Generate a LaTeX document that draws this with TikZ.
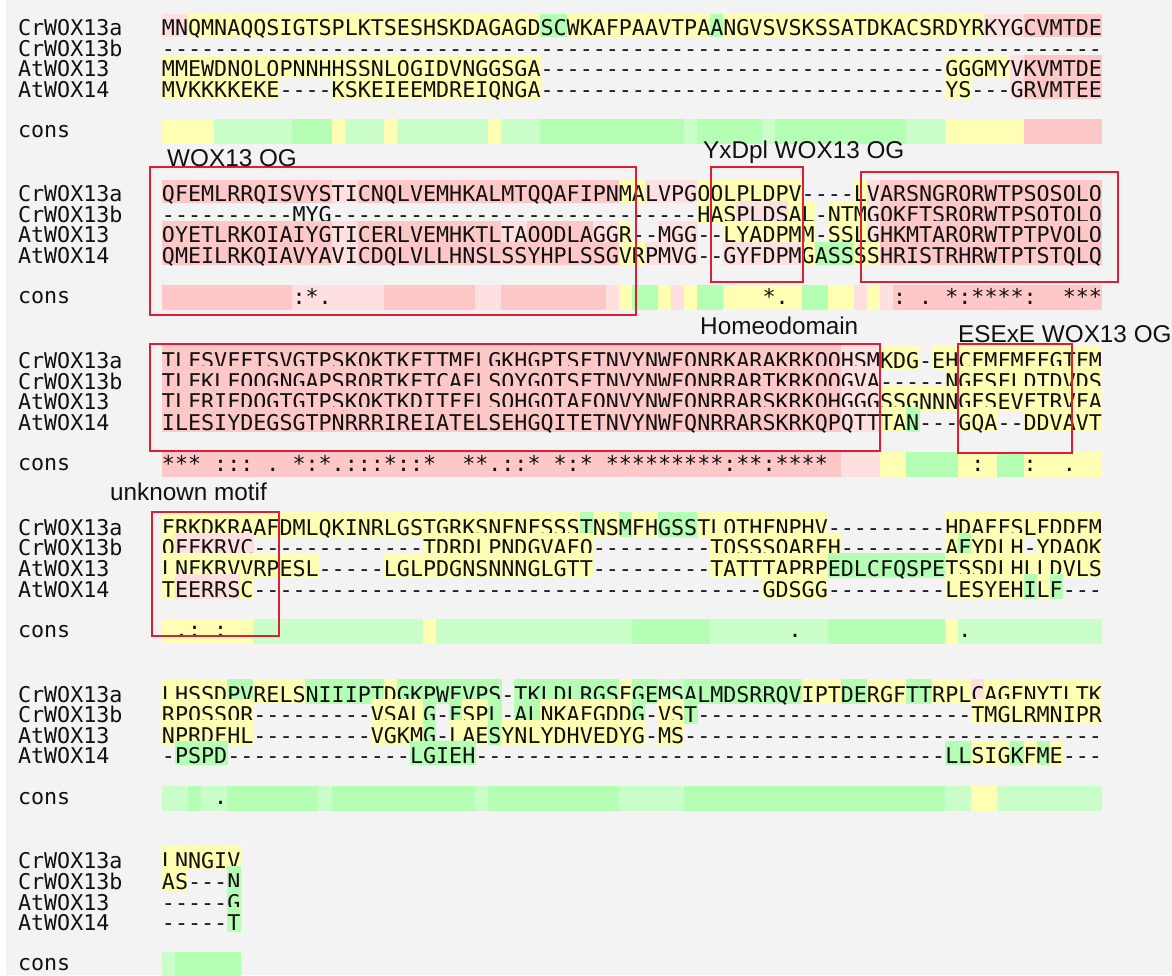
\documentclass[tikz,border=0pt]{standalone}
\usepackage{fontspec}
\newfontfamily\monof{DejaVu Sans Mono}
\newfontfamily\annf{Liberation Sans}
\definecolor{cbg}{RGB}{243,243,243}
\definecolor{cp}{RGB}{255,200,200}
\definecolor{cq}{RGB}{255,224,224}
\definecolor{cy}{RGB}{255,255,180}
\definecolor{cg}{RGB}{180,255,180}
\definecolor{ch}{RGB}{202,255,202}
\definecolor{cred}{RGB}{222,30,50}
\definecolor{ctxt}{RGB}{17,17,17}
% sequence typesetting: one fixed-width cell per character, "_" = blank cell
\def\seqloop#1{\ifx\relax#1\else\hbox to 13.056pt{\hss\if_#1\else#1\fi\hss}\expandafter\seqloop\fi}
\newcommand\seq[1]{\seqloop#1\relax}
% background cells: one code letter per column, "." = none
\newcount\bgc
\def\bgtop{0}\def\bgh{0}
\def\bgloop#1{\ifx\relax#1\else\bgcell#1\global\advance\bgc by 1\relax\expandafter\bgloop\fi}
\def\bgcell#1{\if.#1\else\fill[c#1] ({161.8+\the\bgc*13.056},\bgtop) rectangle ++(13.5,\bgh);\fi}
\newcommand\bgrow[3]{\def\bgtop{#1}\def\bgh{#2}\global\bgc=0\relax\bgloop#3\relax}
\tikzset{
  lbl/.style={anchor=base west,inner sep=0pt,outer sep=0pt,text=ctxt,font=\monof\fontsize{21.7}{22}\selectfont},
  ann/.style={anchor=base west,inner sep=0pt,text=ctxt,font=\annf\fontsize{24.3}{26}\selectfont},
  redbox/.style={draw=cred,line width=2.2pt}
}
% how far a row's background reaches above the row centre (sets how much of
% the row above it hides)
\def\bgup{13.5}
\newcommand\srow[5]{%
  \bgrow{#2-\bgup}{\bgup+9.5}{#4}
  \node[lbl] (l#1) at (18,#2+7.9) {#3};
  \node[lbl] (s#1) at (162,#2+7.9) {\seq{#5}};}
\newcommand\crow[4]{%
  \bgrow{#2-12.5}{25}{#3}
  \node[lbl] (l#1) at (18,#2+6) {cons};
  \node[lbl] (s#1) at (162,#2+6.5) {\seq{#4}};}
\begin{document}
\begin{tikzpicture}[x=1pt,y=-1pt]
\useasboundingbox (0,0) rectangle (1172,975);
\fill[cbg] (0,0) rectangle (1172,975);
\fill[white] (0,0) rectangle (6,975);
% ---------------- block 1
\srow{1a}{27.5}{CrWOX13a}{qqyyyyyyyy yyyyyyyyyy yyyyyyyyyg gyyyyyyyyy yygyyyyyyy yyyyyyyyyy yyyqqqpppp pp}{MNQMNAQQSI GTSPLKTSES HSKDAGAGDS CWKAFPAAVT PAANGVSVSK SSATDKACSR DYRKYGCVMT DE}
\srow{1b}{48.1}{CrWOX13b}{..}{---------- ---------- ---------- ---------- ---------- ---------- ---------- --}
\srow{1c}{68.7}{AtWOX13}{yyyyyyyyyy yyyyyyyyyy yyyyyyyyy. .......... .......... .......... yyyyyqpppp pp}{MMEWDNOLOP NNHHSSNLOG IDVNGGSGA- ---------- ---------- ---------- GGGMYVKVMT DE}
\srow{1d}{89.3}{AtWOX14}{yyyyyyyyy. ...yyyyyyy yyyyyyyyy. .......... .......... .......... yy...qpppp pp}{MVKKKKEKE- ---KSKEIEE MDREIQNGA- ---------- ---------- ---------- YS---GRVMT EE}
\crow{1e}{131.5}{yyyyhhhhhh gggyhhhyhh hhhhhyhhhg gggggggggg hggggghggg ggggggghhh yyyyyypppp pp}{_}
% ---------------- block 2
\srow{2a}{193.5}{CrWOX13a}{pppppppppp pppqqppppp pppppppppp pppppyyqqq qyyyyyyyy. ...yqppppp pppppppppp pp}{QFEMLRRQIS VYSTICNQLV EMHKALMTQQ AFIPNMALVP GOOLPLDPV- ---LVARSNG RORWTPSOSO LO}
\srow{2b}{214.1}{CrWOX13b}{.......... .......... .......... .......... .yyyqqqqyy .yyyqppppp pppppppppp pp}{---------- MYG------- ---------- ---------- -HASPLDSAL -NTMGOKFTS RORWTPSOTO LO}
\srow{2c}{234.7}{AtWOX13}{pppppppppp pppqqppppp ppppppqqpp pppqqy..qq q..yyyyyyy .yyyqppppp pppppppppp pp}{OYETLRKOIA IYGTICERLV EMHKTLTAOO DLAGGR--MG G--LYADPMM -SSLGHKMTA RORWTPTPVO LO}
\srow{2d}{255.3}{AtWOX14}{pppppppppp pppqqppppp pppppppppp pppppyyqqq q..qqqqqqy gggyyppppp pppppppppp pp}{QMEILRKQIA VYAVICDQLV LLHNSLSSYH PLSSGVRPMV G--GYFDPMG ASSSSHRIST RHRWTPTSTQ LQ}
\crow{2e}{297.5}{pppppppppp qqqqqqqppp ppppqqpppp ppppqyggyq yggyyyyyyg gyyqyqpppp pppppppppp pp}{__________ :*._______ __________ __________ ______*.__ ______:_._ *:****:__* **}
% ---------------- block 3
\def\bgup{15.3}
\srow{3a}{360.5}{CrWOX13a}{pppppppppp pppppppppp pppppppppp pppppppppp pppppppppp ppqqqyyy.y yyyyyyyyyy yy}{TLFSVFFTSV GTPSKOKTKF TTMFLGKHGP TSFTNVYNWF ONRKARAKRK OOHSMKDG-E HCFMFMFFGT FM}
\srow{3b}{381.1}{CrWOX13b}{pppppppppp pppppppppp pppppppppp pppppppppp pppppppppp ppqqq..... yyyyyyyyyy yy}{TLFKLFOOGN GAPSRORTKF TCAFLSOYGO TSFTNVYNWF ONRRARTKRK OOGVA----- NGFSFLDTDV DS}
\srow{3c}{401.7}{AtWOX13}{pppppppppp pppppppppp pppppppppp pppppppppp pppppppppp ppqqqyyyyy yyyyyyyyyy yy}{TLFRIFDOGT GTPSKOKTKD ITFFLSOHGO TAFONVYNWF ONRRARSKRK OHGGGSSGNN NGFSEVFTRV FA}
\srow{3d}{422.3}{AtWOX14}{pppppppppp pppppppppp pppppppppp pppppppppp pppppppppp ppqqqyyg.. .yyy..yyyy yy}{ILESIYDEGS GTPNRRRIRE IATELSEHGQ ITETNVYNWF QNRRARSKRK QPQTTTAN-- -GQA--DDVA VT}
\crow{3e}{464.5}{pppppppppp pppppppppp pppppppppp pppppppppp pppppppppp ppqqqyyggg gyyyggyyyy yy}{***_:::_._ *:*.:::*:: *__**.::*_ *:*_****** ***:**:*** *_________ __:___:__.}
% ---------------- block 4
\srow{4a}{527.3}{CrWOX13a}{yyyyyyyyyy yyyyyyyyyy yyyyyyyyyy yygyygyygg gyyyyyyyyy y......... yyyyyyyyyy yy}{FRKDKRAAFD MLQKINRLGS TGRKSNFNFS SSTNSMFHGS STLOTHFNPH V--------- HDAFFSLFDD FM}
\srow{4b}{547.9}{CrWOX13b}{yqqqqqq... .......... yyyyyyyyyy yyy....... ..yyyyyyyy yy........ ygyyyy.yyy yy}{OFFKRVC--- ---------- TDRDLPNDGV AFO------- --TOSSSOAR FH-------- AFYDLH-YDA OK}
\srow{4c}{568.5}{AtWOX13}{yyyyyyyyyy yy.....yyy yyyyyyyyyy yyy....... ..yyyyyyyy yggggggggg yyyyyyyyyy yy}{LNFKRVVRPE SL-----LGL PDGNSNNNGL GTT------- --TATTTAPR PEDLCFQSPE TSSDLHLLDV LS}
\srow{4d}{589.1}{AtWOX14}{yqqqqqy... .......... .......... .......... ......yyyy y......... yyyyyygyg. ..}{TEERRSC--- ---------- ---------- ---------- ------GDSG G--------- LESYEHILF- --}
\crow{4e}{631.3}{yyyyyyyhhh hhhhhhhhhh yhhhhhhhhh hhhhhhgggg gghhhhhhhh hggggggggg yhhhhhhhhh hh}{_.:_:_____ __________ __________ __________ ________._ __________ _.}
% ---------------- block 5
\srow{5a}{694.1}{CrWOX13a}{yyyyyggyyy yggggggygg gggggg.ggg gggggygghh gggggggggy yyggyyyggy yyqyyyyyyy yy}{LHSSDPVREL SNIIIPTDGK PWFVPS-TKL DLRGSFGEMS ALMDSRRQVI PTDERGFTTR PLCAGFNYTL TK}
\srow{5b}{714.7}{CrWOX13b}{yyyyyyy... ......yyyy g.gyyg.ggy yyyyyyg.yy g......... .......... ..yyyyyyyy yy}{RPOSSOR--- ------VSAL G-FSPL-ALN KAFGDDG-VS T--------- ---------- --TMGLRMNI PR}
\srow{5c}{735.3}{AtWOX13}{yyyyyyy... ......yyyy g.yyygyyyy yyyyyyy.yy .......... .......... .......... ..}{NPRDFHL--- ------VGKM G-LAESYNLY DHVEDYG-MS ---------- ---------- ---------- --}
\srow{5d}{755.9}{AtWOX14}{.gggg..... .........g gggg...... .......... .......... .......... ggyyygygy. ..}{-PSPD----- ---------L GIEH------ ---------- ---------- ---------- LLSIGKFME- --}
\crow{5e}{798.1}{hhghhggggg gghggggggg gggghggggg ggggghhhhh gggggggggg gggggggggg hhyyhhhhhh hh}{____._____}
% ---------------- block 6
\srow{6a}{860.9}{CrWOX13a}{yyyyyy}{LNNGIV}
\srow{6b}{881.5}{CrWOX13b}{yy...g}{AS---N}
\srow{6c}{902.1}{AtWOX13}{.....g}{-----G}
\srow{6d}{922.7}{AtWOX14}{.....g}{-----T}
\crow{6e}{964.9}{hggggg}{_}
% ---------------- annotations
\draw[redbox] (150,167) rectangle (636,315);
\draw[redbox] (711,167) rectangle (803,282);
\draw[redbox] (861,172) rectangle (1118,282);
\draw[redbox] (150,344) rectangle (880,451);
\draw[redbox] (958,344) rectangle (1072,453);
\draw[redbox] (152,512) rectangle (279,636);
\node[ann] (a1) at (167,166) {WOX13 OG};
\node[ann] (a2) at (703,158) {YxDpl WOX13 OG};
\node[ann] (a3) at (700,334) {Homeodomain};
\node[ann] (a4) at (958,342) {ESExE WOX13 OG};
\node[ann] (a5) at (110,500) {unknown motif};
\end{tikzpicture}
\end{document}
